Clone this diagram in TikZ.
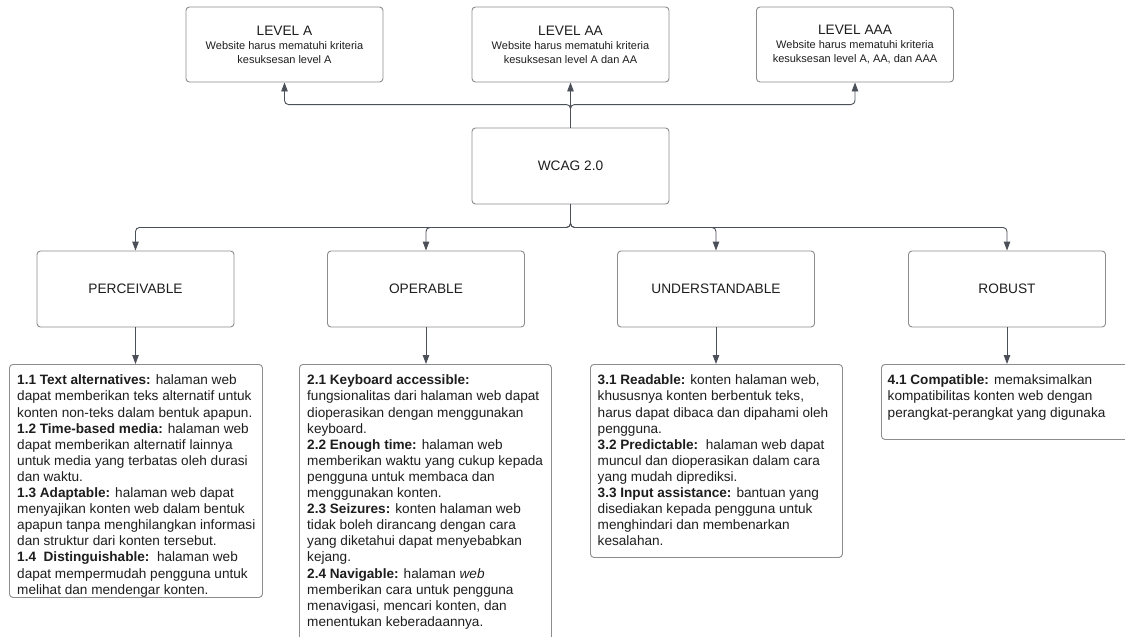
\documentclass[tikz,border=0pt]{standalone}
\usepackage{fontspec}
\setmainfont{Liberation Sans}
\usetikzlibrary{arrows.meta}
\definecolor{conncol}{HTML}{4B5058}
\definecolor{boxcol}{HTML}{8C8C8C}
\definecolor{txtcol}{HTML}{1E1E1E}
\tikzset{
  card/.style={draw=boxcol, line width=0.9pt, rounded corners=3.5pt, fill=white, inner sep=0pt},
  toplabel/.style={card, align=center, text=txtcol, minimum width=197pt, minimum height=75pt},
  midlabel/.style={card, align=center, text=txtcol, minimum width=197pt, minimum height=76pt,
     font=\fontsize{13.7}{16}\selectfont},
  bodytext/.style={anchor=north west, inner sep=0pt, align=left, text=txtcol,
     font=\fontsize{13.6}{16.1}\selectfont},
  conn/.style={draw=conncol, line width=0.9pt, rounded corners=4pt,
     -{Triangle[length=9pt,width=6.5pt]}},
}
\newcommand{\ttl}[1]{{\fontsize{13.7}{14}\selectfont #1}}
\begin{document}
\begin{tikzpicture}[x=1pt,y=-1pt]
\useasboundingbox (0,0) rectangle (1125,637);
\clip (0,0) rectangle (1125,637);
\fill[white] (0,0) rectangle (1125,637);

% top level boxes
\node[toplabel, font=\fontsize{11}{14}\selectfont] (la) at (284.5,44.5)
  {\ttl{LEVEL A}\\Website harus mematuhi kriteria\\kesuksesan level A};
\node[toplabel, font=\fontsize{11}{14}\selectfont] (laa) at (570.5,44.5)
  {\ttl{LEVEL AA}\\Website harus mematuhi kriteria\\kesuksesan level A dan AA};
\node[toplabel, font=\fontsize{11}{14}\selectfont] (laaa) at (855,44.5)
  {\ttl{LEVEL AAA}\\Website harus mematuhi kriteria\\kesuksesan level A, AA, dan AAA};

% centre
\node[midlabel] (wcag) at (570.5,166) {WCAG 2.0};

% principles
\node[midlabel] (per) at (135.5,289) {PERCEIVABLE};
\node[midlabel] (ope) at (426,289) {OPERABLE};
\node[midlabel] (und) at (716,289) {UNDERSTANDABLE};
\node[midlabel] (rob) at (1007,289) {ROBUST};

% detail boxes
\node[card, anchor=north west, minimum width=253pt, minimum height=233pt] (pert) at (9,364) {};
\node[card, anchor=north west, minimum width=252pt, minimum height=290pt] (opet) at (299,364) {};
\node[card, anchor=north west, minimum width=252pt, minimum height=193pt] (undt) at (590,364) {};
\node[card, anchor=north west, minimum width=254pt, minimum height=75pt] (robt) at (881,364) {};

\node[bodytext] (pertx) at (17,374.8) {\textbf{1.1 Text alternatives:} halaman web\\
dapat memberikan teks alternatif untuk\\
konten non-teks dalam bentuk apapun.\\
\textbf{1.2 Time-based media:} halaman web\\
dapat memberikan alternatif lainnya\\
untuk media yang terbatas oleh durasi\\
dan waktu.\\
\textbf{1.3 Adaptable:} halaman web dapat\\
menyajikan konten web dalam bentuk\\
apapun tanpa menghilangkan informasi\\
dan struktur dari konten tersebut.\\
\textbf{1.4\ \ Distinguishable:}\ \ halaman web\\
dapat mempermudah pengguna untuk\\
melihat dan mendengar konten.};

\node[bodytext] (opetx) at (307,374.8) {\textbf{2.1 Keyboard accessible:}\\
fungsionalitas dari halaman web dapat\\
dioperasikan dengan menggunakan\\
keyboard.\\
\textbf{2.2 Enough time:} halaman web\\
memberikan waktu yang cukup kepada\\
pengguna untuk membaca dan\\
menggunakan konten.\\
\textbf{2.3 Seizures:} konten halaman web\\
tidak boleh dirancang dengan cara\\
yang diketahui dapat menyebabkan\\
kejang.\\
\textbf{2.4 Navigable:} halaman \textit{web}\\
memberikan cara untuk pengguna\\
menavigasi, mencari konten, dan\\
menentukan keberadaannya.};

\node[bodytext] (undtx) at (597.5,374.8) {\textbf{3.1 Readable:} konten halaman web,\\
khususnya konten berbentuk teks,\\
harus dapat dibaca dan dipahami oleh\\
pengguna.\\
\textbf{3.2 Predictable:}\ \ halaman web dapat\\
muncul dan dioperasikan dalam cara\\
yang mudah diprediksi.\\
\textbf{3.3 Input assistance:} bantuan yang\\
disediakan kepada pengguna untuk\\
menghindari dan membenarkan\\
kesalahan.};

\node[bodytext] (robtx) at (887.5,374.8) {\textbf{4.1 Compatible:} memaksimalkan\\
kompatibilitas konten web dengan\\
perangkat-perangkat yang digunaka};

% connectors up
\draw[conn] (wcag.north) -- ++(0,-23) -| (la.south);
\draw[conn] (wcag.north) -- (laa.south);
\draw[conn] (wcag.north) -- ++(0,-23) -| (laaa.south);

% connectors down
\draw[conn] (wcag.south) -- ++(0,23) -| (per.north);
\draw[conn] (wcag.south) -- ++(0,23) -| (ope.north);
\draw[conn] (wcag.south) -- ++(0,23) -| (und.north);
\draw[conn] (wcag.south) -- ++(0,23) -| (rob.north);

\draw[conn] (per.south) -- (per.south |- pert.north);
\draw[conn] (ope.south) -- (ope.south |- opet.north);
\draw[conn] (und.south) -- (und.south |- undt.north);
\draw[conn] (rob.south) -- (rob.south |- robt.north);
\end{tikzpicture}
\end{document}
